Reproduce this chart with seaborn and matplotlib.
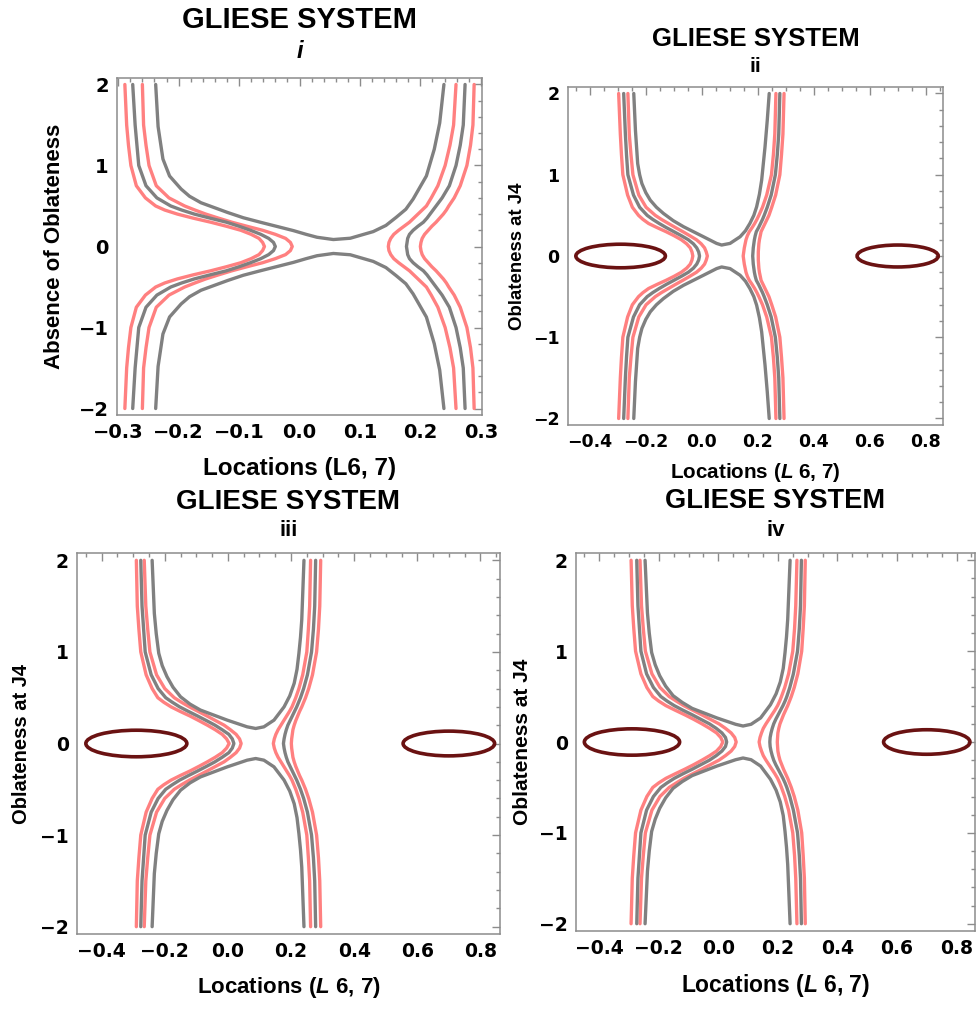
import matplotlib
matplotlib.use("Agg")
import matplotlib.pyplot as plt
import seaborn as sns
from matplotlib.patches import Ellipse
from matplotlib.ticker import MultipleLocator

# zero-velocity curves. The curves are mirror images about y = 0,
# so every list holds the upper half (top edge down to y = 0); the lower half is its mirror.
y_half = [2.0, 1.5, 1.25, 1.0, 0.75, 0.6, 0.5, 0.45, 0.4, 0.35, 0.3, 0.25, 0.2, 0.15, 0.1, 0.05, 0.0]

# panel i (no oblateness)
i_left_pink_out = [-0.289, -0.286, -0.283, -0.279, -0.270, -0.255, -0.238, -0.223, -0.202, -0.176,
                   -0.147, -0.121, -0.097, -0.080, -0.067, -0.061, -0.058]
i_left_gray = [-0.276, -0.272, -0.269, -0.266, -0.254, -0.236, -0.213, -0.195, -0.174, -0.148,
               -0.121, -0.100, -0.081, -0.064, -0.051, -0.043, -0.040]
i_left_pink_in = [-0.260, -0.258, -0.254, -0.249, -0.237, -0.216, -0.190, -0.173, -0.155, -0.134,
                  -0.112, -0.087, -0.061, -0.040, -0.023, -0.015, -0.012]
i_right_pink_in = [0.259, 0.255, 0.249, 0.241, 0.229, 0.218, 0.210, 0.203, 0.196, 0.189,
                   0.182, 0.173, 0.164, 0.156, 0.151, 0.148, 0.147]
i_right_gray = [0.274, 0.271, 0.266, 0.259, 0.248, 0.236, 0.226, 0.221, 0.216, 0.211,
                0.205, 0.196, 0.188, 0.182, 0.179, 0.178, 0.177]
i_right_pink_out = [0.289, 0.287, 0.283, 0.277, 0.266, 0.256, 0.247, 0.243, 0.238, 0.232,
                    0.226, 0.219, 0.213, 0.207, 0.203, 0.201, 0.200]
i_u_x = [-0.238, -0.234, -0.226, -0.215, -0.196, -0.182, -0.163, -0.119, -0.093, -0.065, -0.010, 0.011,
         0.029, 0.056, 0.084, 0.122, 0.143, 0.160, 0.176, 0.188, 0.210, 0.223, 0.232, 0.239]
i_u_y = [2.0, 1.48, 1.08, 0.87, 0.71, 0.62, 0.54, 0.42, 0.355, 0.30, 0.196, 0.15,
         0.114, 0.086, 0.102, 0.184, 0.26, 0.36, 0.46, 0.585, 0.871, 1.20, 1.525, 2.0]

# panel ii
ii_left_pink_out = [-0.297, -0.291, -0.287, -0.282, -0.265, -0.248, -0.226, -0.210, -0.190, -0.160,
                    -0.128, -0.099, -0.073, -0.054, -0.041, -0.035, -0.032]
ii_left_gray = [-0.279, -0.273, -0.269, -0.264, -0.244, -0.222, -0.195, -0.175, -0.152, -0.127,
                -0.100, -0.073, -0.048, -0.030, -0.018, -0.011, -0.008]
ii_left_pink_in = [-0.264, -0.259, -0.253, -0.246, -0.225, -0.199, -0.166, -0.144, -0.119, -0.094,
                   -0.068, -0.043, -0.019, -0.002, 0.010, 0.016, 0.020]
ii_right_pink_in = [0.265, 0.261, 0.256, 0.249, 0.232, 0.217, 0.204, 0.197, 0.189, 0.180,
                    0.170, 0.163, 0.158, 0.155, 0.152, 0.150, 0.148]
ii_right_gray = [0.279, 0.275, 0.270, 0.263, 0.248, 0.234, 0.223, 0.217, 0.210, 0.203,
                 0.195, 0.191, 0.188, 0.186, 0.184, 0.183, 0.182]
ii_right_pink_out = [0.294, 0.290, 0.285, 0.279, 0.264, 0.250, 0.240, 0.233, 0.226, 0.219,
                     0.212, 0.209, 0.206, 0.204, 0.203, 0.202, 0.202]
ii_u_x = [-0.243, -0.237, -0.229, -0.222, -0.214, -0.200, -0.184, -0.162, -0.137, -0.102, -0.065,
          0.006, 0.053, 0.071, 0.101, 0.137, 0.156, 0.172, 0.186, 0.196, 0.206, 0.214, 0.226,
          0.234, 0.241]
ii_u_y = [2.0, 1.546, 1.137, 1.0, 0.892, 0.78, 0.687, 0.60, 0.524, 0.435, 0.36,
          0.237, 0.155, 0.135, 0.155, 0.237, 0.31, 0.401, 0.50, 0.605, 0.76, 0.933, 1.342,
          1.669, 2.0]

# panel iii
iii_left_pink_out = [-0.290, -0.287, -0.282, -0.276, -0.259, -0.240, -0.222, -0.203, -0.180, -0.151,
                     -0.120, -0.092, -0.065, -0.040, -0.018, -0.004, 0.004]
iii_left_gray = [-0.276, -0.272, -0.267, -0.262, -0.243, -0.221, -0.197, -0.176, -0.153, -0.125,
                 -0.096, -0.068, -0.041, -0.018, 0.003, 0.014, 0.019]
iii_left_pink_in = [-0.265, -0.260, -0.254, -0.247, -0.226, -0.200, -0.170, -0.147, -0.122, -0.094,
                    -0.066, -0.039, -0.012, 0.008, 0.026, 0.037, 0.042]
iii_right_pink_in = [0.262, 0.259, 0.255, 0.250, 0.237, 0.225, 0.215, 0.209, 0.203, 0.195,
                     0.186, 0.177, 0.168, 0.159, 0.152, 0.147, 0.144]
iii_right_gray = [0.278, 0.275, 0.271, 0.265, 0.252, 0.240, 0.230, 0.224, 0.218, 0.211,
                  0.204, 0.197, 0.190, 0.185, 0.181, 0.178, 0.176]
iii_right_pink_out = [0.294, 0.291, 0.287, 0.281, 0.268, 0.256, 0.246, 0.240, 0.234, 0.227,
                      0.221, 0.215, 0.210, 0.206, 0.204, 0.202, 0.201]
iii_u_x = [-0.240, -0.233, -0.227, -0.219, -0.208, -0.193, -0.174, -0.150, -0.120, -0.087, -0.002,
           0.061, 0.088, 0.114, 0.146, 0.178, 0.196, 0.210, 0.219, 0.225, 0.230, 0.234, 0.241]
iii_u_y = [2.0, 1.42, 1.2, 0.985, 0.85, 0.73, 0.615, 0.51, 0.43, 0.365, 0.255,
           0.182, 0.164, 0.182, 0.255, 0.40, 0.52, 0.657, 0.81, 0.985, 1.16, 1.35, 2.0]

# panel iv
iv_left_pink_out = [-0.293, -0.289, -0.284, -0.278, -0.260, -0.240, -0.220, -0.200, -0.176, -0.145,
                    -0.113, -0.083, -0.055, -0.029, -0.006, 0.008, 0.015]
iv_left_gray = [-0.274, -0.270, -0.265, -0.260, -0.241, -0.218, -0.193, -0.172, -0.148, -0.119,
                -0.088, -0.059, -0.030, -0.007, 0.012, 0.024, 0.028]
iv_left_pink_in = [-0.263, -0.258, -0.252, -0.245, -0.223, -0.196, -0.165, -0.141, -0.116, -0.086,
                   -0.056, -0.027, 0.002, 0.024, 0.043, 0.055, 0.060]
iv_right_pink_in = [0.264, 0.260, 0.256, 0.250, 0.236, 0.223, 0.212, 0.206, 0.199, 0.190,
                    0.180, 0.170, 0.160, 0.151, 0.145, 0.140, 0.137]
iv_right_gray = [0.279, 0.276, 0.272, 0.266, 0.252, 0.240, 0.230, 0.224, 0.217, 0.209,
                 0.201, 0.193, 0.186, 0.181, 0.177, 0.174, 0.173]
iv_right_pink_out = [0.292, 0.289, 0.285, 0.280, 0.267, 0.255, 0.245, 0.239, 0.233, 0.226,
                     0.219, 0.213, 0.207, 0.203, 0.200, 0.199, 0.198]
iv_u_x = [-0.246, -0.238, -0.232, -0.224, -0.212, -0.197, -0.177, -0.152, -0.121, -0.088, -0.005,
          0.058, 0.083, 0.110, 0.142, 0.175, 0.194, 0.208, 0.218, 0.224, 0.229, 0.233, 0.241]
iv_u_y = [2.0, 1.42, 1.2, 0.985, 0.85, 0.73, 0.615, 0.51, 0.435, 0.37, 0.265,
          0.195, 0.176, 0.195, 0.265, 0.41, 0.53, 0.66, 0.81, 0.985, 1.16, 1.35, 2.0]

# closed ovals around L4/L5 (panels ii-iv): centre x, width, height
oval_centers = [-0.29, 0.70]
oval_widths = [0.32, 0.29]
oval_heights = [0.29, 0.27]

titles = ["GLIESE SYSTEM"] * 4
subtitles = ["i", "ii", "iii", "iv"]
ylabels = ["Absence of Oblateness", "Oblateness at J4", "Oblateness at J4", "Oblateness at J4"]
xlabels = ["Locations (L6, 7)", "Locations ($\\mathit{L}$ 6, 7)",
           "Locations ($\\mathit{L}$ 6, 7)", "Locations ($\\mathit{L}$ 6, 7)"]

PINK = "#ff8080"
GRAY = "#808080"
OVAL = "#6a1212"
FRAME = "#8c8c8c"

sns.set_style("white")
plt.rcParams["font.family"] = ["DejaVu Sans"]
plt.rcParams["font.weight"] = "bold"
plt.rcParams["text.color"] = "black"
plt.rcParams["axes.unicode_minus"] = True
plt.rcParams["mathtext.fontset"] = "custom"
plt.rcParams["mathtext.it"] = "Liberation Sans:bold:italic"
plt.rcParams["mathtext.rm"] = "Liberation Sans:bold"

W, H = 976, 1013
fig = plt.figure(figsize=(W / 100, H / 100), dpi=100)


def mirror(xs, ys):
    return xs + xs[::-1][1:], ys + [-v for v in ys[::-1][1:]]


panels = [
    dict(box=(117, 78, 482, 415), xlim=(-0.302, 0.302), major=0.1, minor=0.02, ovals=False,
         sides=[(i_left_pink_out, PINK), (i_left_gray, GRAY), (i_left_pink_in, PINK),
                (i_right_pink_in, PINK), (i_right_gray, GRAY), (i_right_pink_out, PINK)],
         u=(i_u_x, i_u_y), tsize=21, ssize=17, sy=(20, 52), lsize=16, lx=55, xly=468, ticksize=14),
    dict(box=(568, 87, 943, 425), xlim=(-0.478, 0.862), major=0.2, minor=0.05, ovals=True,
         sides=[(ii_left_pink_out, PINK), (ii_left_gray, GRAY), (ii_left_pink_in, PINK),
                (ii_right_pink_in, PINK), (ii_right_gray, GRAY), (ii_right_pink_out, PINK)],
         u=(ii_u_x, ii_u_y), tsize=18.5, ssize=15, sy=(39, 66), lsize=13.4, lx=517, xly=473, ticksize=12.5),
    dict(box=(77, 553, 500, 934), xlim=(-0.478, 0.862), major=0.2, minor=0.05, ovals=True,
         sides=[(iii_left_pink_out, PINK), (iii_left_gray, GRAY), (iii_left_pink_in, PINK),
                (iii_right_pink_in, PINK), (iii_right_gray, GRAY), (iii_right_pink_out, PINK)],
         u=(iii_u_x, iii_u_y), tsize=20, ssize=16, sy=(502, 531), lsize=14.5, lx=22, xly=987, ticksize=13.5),
    dict(box=(576, 553, 975, 931), xlim=(-0.478, 0.862), major=0.2, minor=0.05, ovals=True,
         sides=[(iv_left_pink_out, PINK), (iv_left_gray, GRAY), (iv_left_pink_in, PINK),
                (iv_right_pink_in, PINK), (iv_right_gray, GRAY), (iv_right_pink_out, PINK)],
         u=(iv_u_x, iv_u_y), tsize=19.6, ssize=16, sy=(501, 531), lsize=15, lx=522, xly=985, ticksize=13.5),
]

for k, p in enumerate(panels):
    x0, y0, x1, y1 = p["box"]
    ax = fig.add_axes([x0 / W, 1 - y1 / H, (x1 - x0) / W, (y1 - y0) / H])

    # pink first, gray on top
    for colour in (PINK, GRAY):
        for xs, c in p["sides"]:
            if c != colour:
                continue
            fx, fy = mirror(xs, y_half)
            sns.lineplot(x=fx, y=fy, sort=False, estimator=None, color=c, lw=2.4, ax=ax)
    ux, uy = p["u"]
    sns.lineplot(x=ux, y=uy, sort=False, estimator=None, color=GRAY, lw=2.4, ax=ax)
    sns.lineplot(x=ux, y=[-v for v in uy], sort=False, estimator=None, color=GRAY, lw=2.4, ax=ax)

    if p["ovals"]:
        for cx, w, h in zip(oval_centers, oval_widths, oval_heights):
            ax.add_patch(Ellipse((cx, 0), w, h, fill=False, ec=OVAL, lw=2.6))

    ax.set_xlim(*p["xlim"])
    ax.set_ylim(-2.08, 2.08)
    ax.xaxis.set_major_locator(MultipleLocator(p["major"]))
    ax.xaxis.set_minor_locator(MultipleLocator(p["minor"]))
    ax.yaxis.set_major_locator(MultipleLocator(1))
    ax.yaxis.set_minor_locator(MultipleLocator(0.2))
    ax.tick_params(which="both", direction="in", top=True, right=True, color=FRAME,
                   labelcolor="black", labelsize=p["ticksize"], width=1)
    ax.tick_params(which="major", length=6, pad=6)
    ax.tick_params(which="minor", length=3)
    for s in ax.spines.values():
        s.set_color(FRAME)
        s.set_linewidth(1.1)
    ax.set_xlabel("")
    ax.set_ylabel("")

    cx = (x0 + x1) / 2
    cy = (y0 + y1) / 2
    fig.text(cx / W, 1 - p["sy"][0] / H, titles[k], ha="center", va="center",
             fontsize=p["tsize"], family="Liberation Sans", weight="bold", color="black")
    fig.text(cx / W, 1 - p["sy"][1] / H, subtitles[k], ha="center", va="center",
             fontsize=p["ssize"], family="Liberation Sans", weight="bold", color="black",
             style="italic" if k == 0 else "normal")
    fig.text(p["lx"] / W, 1 - cy / H, ylabels[k], ha="center", va="center", rotation=90,
             fontsize=p["lsize"], family="Liberation Sans", weight="bold", color="black")
    fig.text(cx / W, 1 - p["xly"] / H, xlabels[k], ha="center", va="center",
             fontsize=p["lsize"] + 1.5, family="Liberation Sans", weight="bold", color="black")

fig.savefig("out.png", dpi=100)
